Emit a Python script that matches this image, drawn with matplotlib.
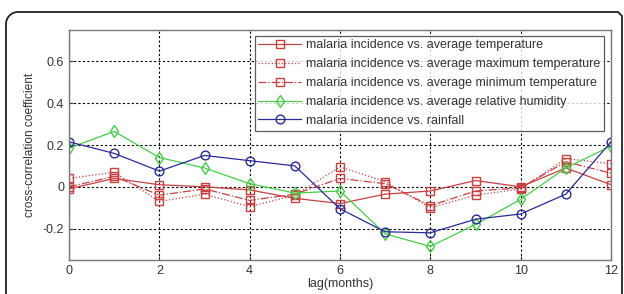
import matplotlib
matplotlib.use("Agg")
import matplotlib.pyplot as plt
import numpy as np
from matplotlib.path import Path
from matplotlib.patches import PathPatch

plt.rcParams['font.family'] = ['Liberation Sans', 'DejaVu Sans']

lags = list(range(13))
avg_temp = [-0.01, 0.04, 0.01, 0.0, -0.015, -0.055, -0.08, -0.035, -0.02, 0.03, 0.0, 0.09, 0.01]
max_temp = [0.04, 0.07, -0.07, -0.035, -0.095, -0.04, 0.095, 0.025, -0.10, -0.04, -0.01, 0.135, 0.11]
min_temp = [0.0, 0.05, -0.04, -0.01, -0.065, -0.035, 0.04, 0.015, -0.09, -0.02, -0.005, 0.12, 0.065]
humidity = [0.185, 0.265, 0.14, 0.09, 0.015, -0.03, -0.02, -0.225, -0.285, -0.18, -0.06, 0.09, 0.195]
rainfall = [0.215, 0.16, 0.075, 0.15, 0.125, 0.10, -0.105, -0.215, -0.22, -0.155, -0.13, -0.035, 0.215]

labels = ['malaria incidence vs. average temperature',
          'malaria incidence vs. average maximum temperature',
          'malaria incidence vs. average minimum temperature',
          'malaria incidence vs. average relative humidity',
          'malaria incidence vs. rainfall']
xticks = [0, 2, 4, 6, 8, 10, 12]
yticks = [-0.2, 0, 0.2, 0.4, 0.6]
ytick_labels = ['-0.2', '0', '0.2', '0.4', '0.6']

W, H = 624, 294
fig = plt.figure(figsize=(W / 100, H / 100), dpi=100)

# decorative rounded frame (pixel coords, y from top)
r = 12
x0, y0, x1 = 6, 12, 622
t = np.linspace(np.pi, np.pi / 2, 12)
pts = [(x0, H + 10), (x0, y0 + r)]
pts += [(x0 + r + r * np.cos(a), y0 + r - r * np.sin(a)) for a in t]
pts += [(x1 - 4, y0), (x1, y0 + 4), (x1, H + 10)]
pts = [(px / W, 1 - py / H) for px, py in pts]
frame = PathPatch(Path(pts), transform=fig.transFigure, fill=False,
                  edgecolor='#222222', linewidth=1.3, zorder=0)
fig.patches.append(frame)

ax = fig.add_axes([69 / W, 34 / H, (611 - 69) / W, (260 - 30) / H])

red = '#c84040'
ms = 6.3
ax.plot(lags, avg_temp, '-', color=red, marker='s', mfc='none', ms=ms, lw=0.9, label=labels[0])
ax.plot(lags, max_temp, ':', color=red, marker='s', mfc='none', ms=ms, lw=0.9, label=labels[1])
ax.plot(lags, min_temp, '-.', color=red, marker='s', mfc='none', ms=ms, lw=0.9, label=labels[2])
ax.plot(lags, humidity, '-', color='#44d044', marker='d', mfc='none', ms=ms, lw=0.9, label=labels[3])
ax.plot(lags, rainfall, '-', color='#2a2a9a', marker='o', mfc='none', ms=ms, lw=0.9, label=labels[4])

ax.set_xlim(0, 12)
ax.set_ylim(-0.35, 0.75)
ax.set_xticks(xticks)
ax.set_yticks(yticks)
ax.set_yticklabels(ytick_labels)
ax.tick_params(direction='in', length=3, labelsize=9, colors='#333333')
ax.grid(True, linestyle=(0, (2, 2)), color='black', linewidth=0.8)
for s in ax.spines.values():
    s.set_color('#777777')
    s.set_linewidth(1.0)

ax.set_xlabel('lag(months)', fontsize=9, color='#333333', labelpad=1)
ax.set_ylabel('cross-correlation coefficient', fontsize=8.6, color='#333333', labelpad=5)

leg = ax.legend(loc='upper right', fontsize=9, frameon=True, fancybox=False,
                edgecolor='#333333', borderaxespad=0.35, handlelength=3.4,
                labelspacing=0.55, borderpad=0.3, handletextpad=0.4,
                bbox_to_anchor=(0.995, 0.995))
leg.get_frame().set_linewidth(0.9)
for t_ in leg.get_texts():
    t_.set_color('#333333')

fig.savefig('out.png', dpi=100)
